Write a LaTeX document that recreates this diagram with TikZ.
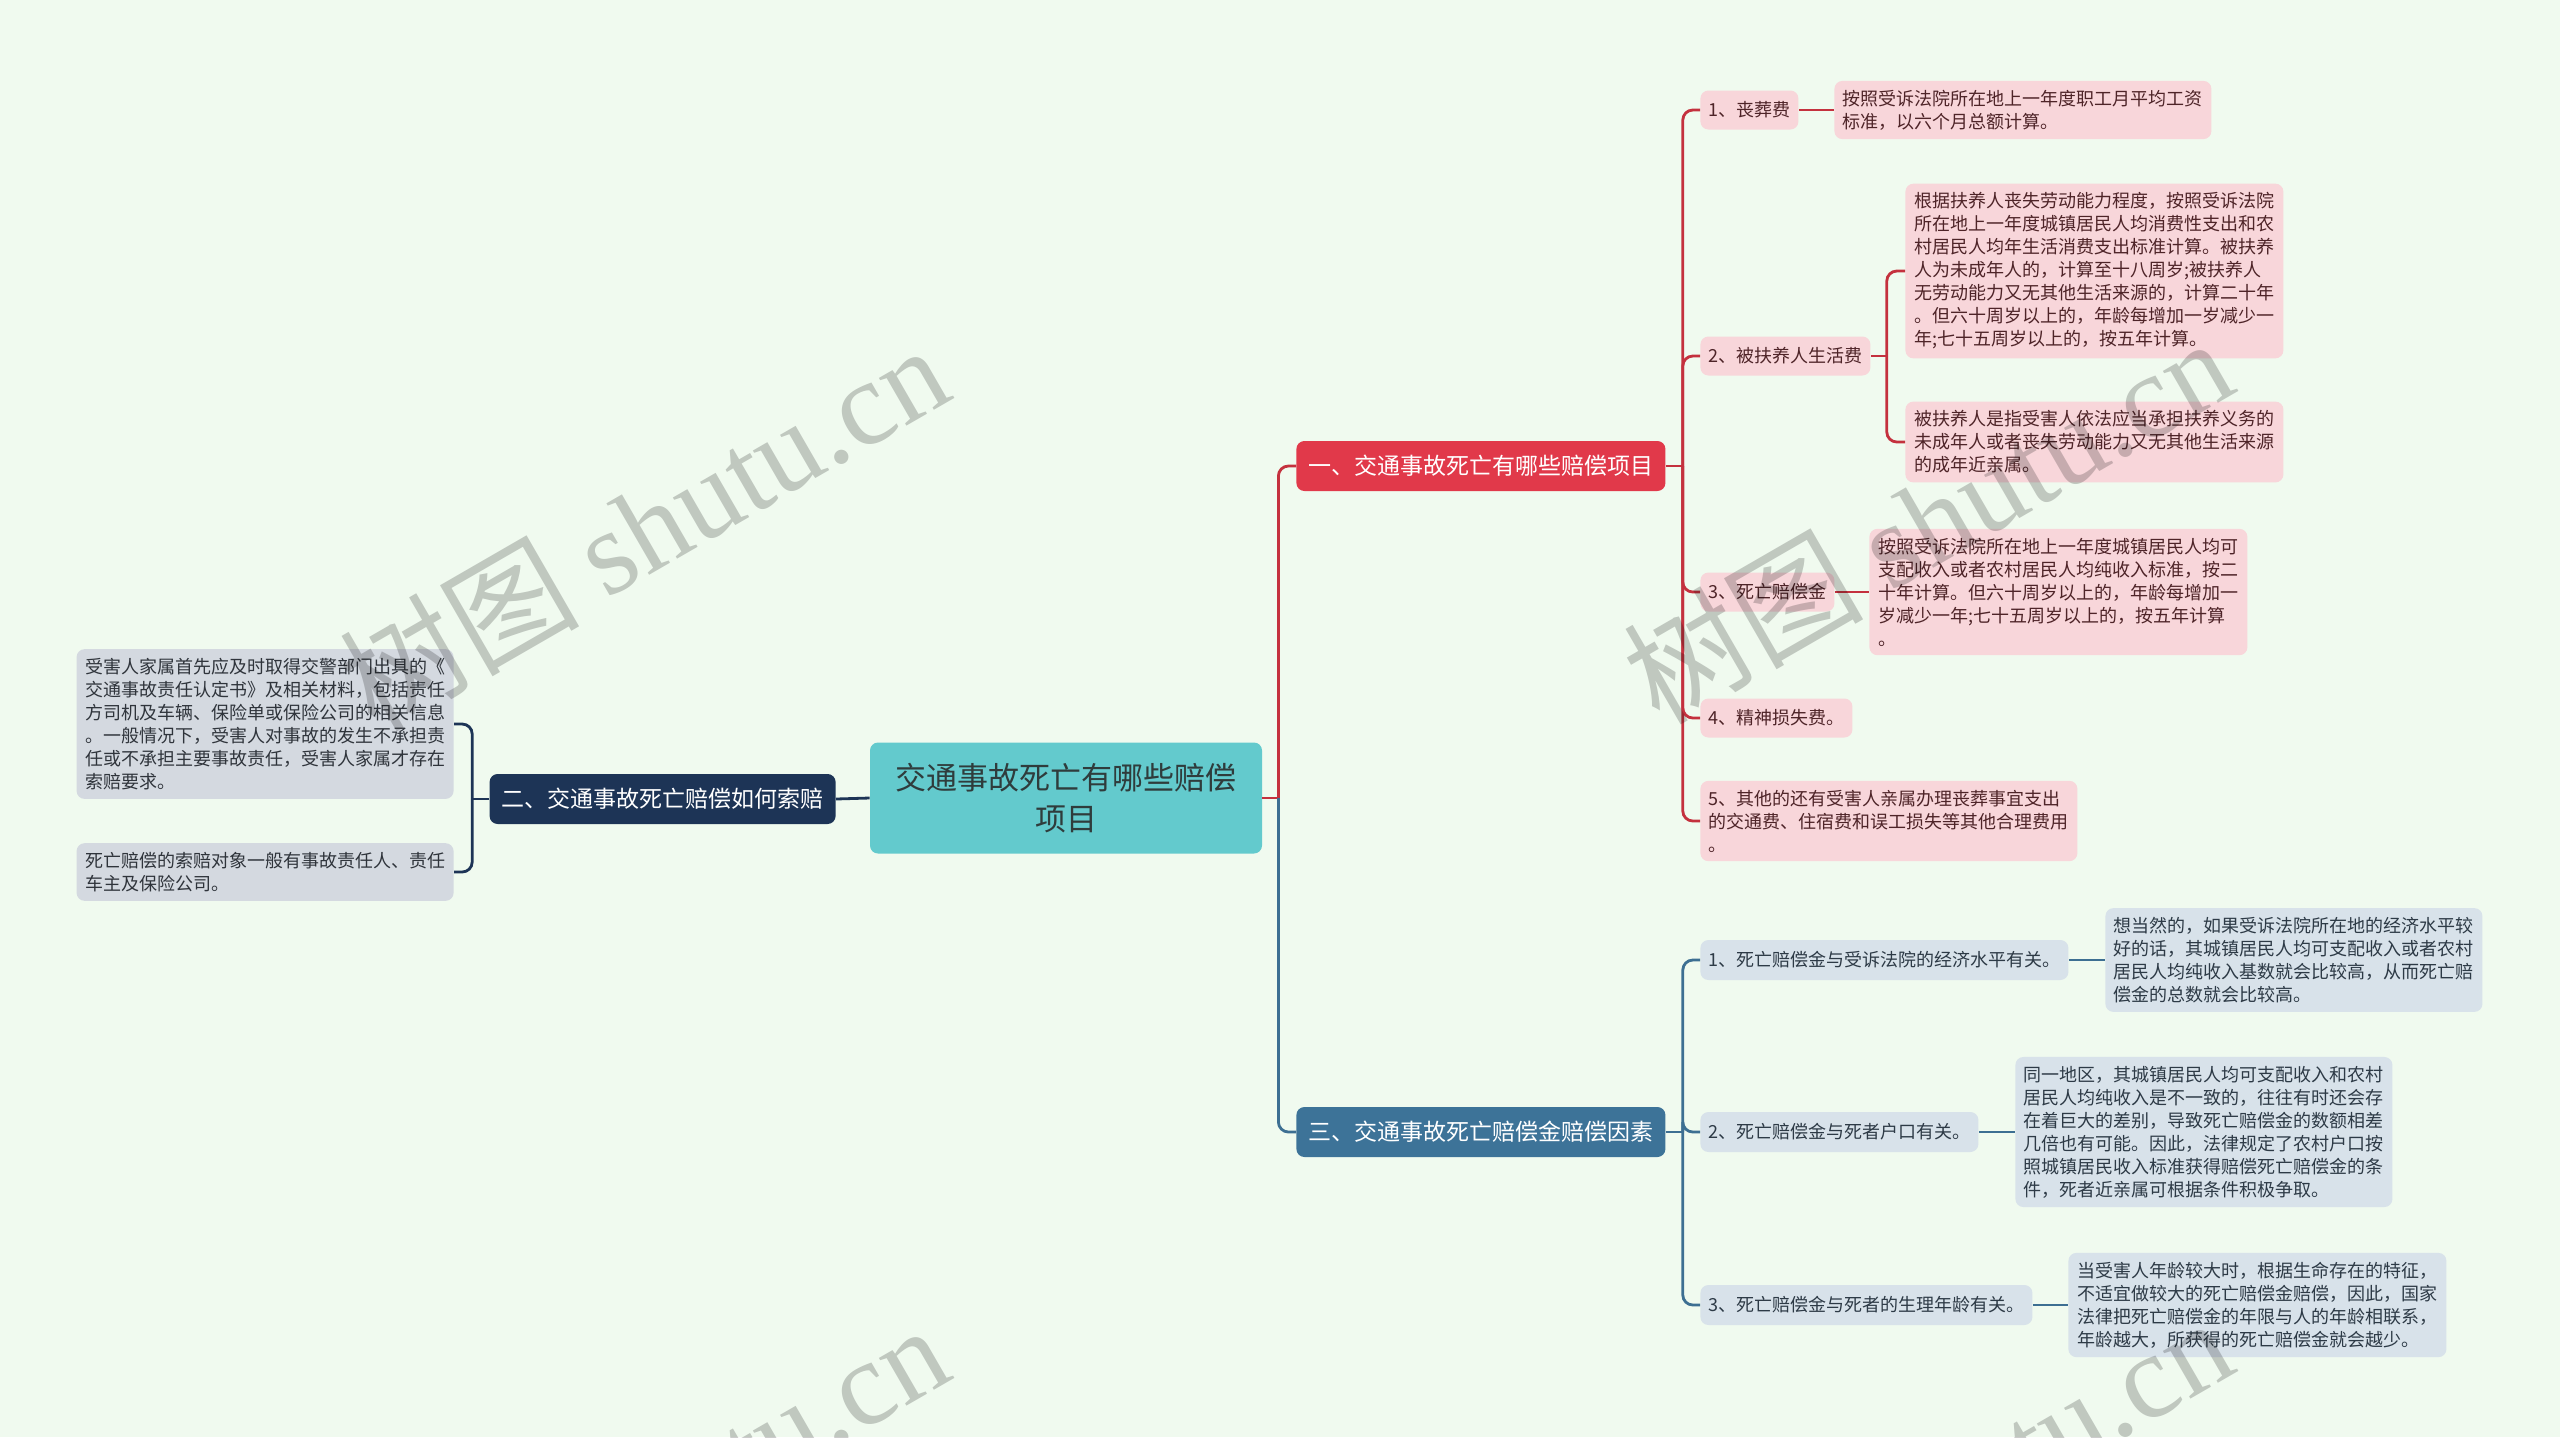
\documentclass[tikz,border=0pt]{standalone}
\usepackage{fontspec}
\setmainfont{Noto Sans CJK SC}
\newfontfamily\wmlatin{Liberation Serif}
\usetikzlibrary{calc}
\definecolor{bgc}{HTML}{F0FAEF}
\definecolor{rootc}{HTML}{63CACD}
\definecolor{roottext}{HTML}{2F3C3C}
\definecolor{redm}{HTML}{E1394A}
\definecolor{redl}{HTML}{C4313E}
\definecolor{pinkc}{HTML}{F8D6DA}
\definecolor{redtext}{HTML}{4E2428}
\definecolor{bluem}{HTML}{3D7398}
\definecolor{bluel}{HTML}{3D6F92}
\definecolor{bluec}{HTML}{D8E2EA}
\definecolor{bluetext}{HTML}{2D3A46}
\definecolor{navym}{HTML}{1D3456}
\definecolor{greyc}{HTML}{D4D9E0}
\definecolor{greytext}{HTML}{2F343B}
\tikzset{
  small/.style={font=\fontsize{9}{11.5}\selectfont},
  rootbox/.style={fill=rootc, text=roottext, rounded corners=4pt, inner sep=0pt,
    font=\fontsize{15.5}{20.5}\selectfont, align=center, minimum width=196pt, minimum height=55.5pt},
  mainbox/.style={rounded corners=4pt, inner sep=0pt, text=white,
    font=\fontsize{11.5}{14}\selectfont, minimum width=184.5pt, minimum height=25pt},
  rchild/.style={small, fill=pinkc, text=redtext, rounded corners=4pt, inner xsep=4pt, inner ysep=4.5pt,
    align=left, anchor=west, minimum height=19.5pt},
  rleaf/.style={small, fill=pinkc, text=redtext, rounded corners=4pt, inner xsep=4pt, inner ysep=4.5pt,
    align=left, anchor=west},
  bchild/.style={small, fill=bluec, text=bluetext, rounded corners=4pt, inner xsep=4pt, inner ysep=4.5pt,
    align=left, anchor=west, minimum height=20pt},
  bleaf/.style={small, fill=bluec, text=bluetext, rounded corners=4pt, inner xsep=4pt, inner ysep=4.5pt,
    align=left, anchor=west},
  gleaf/.style={small, fill=greyc, text=greytext, rounded corners=4pt, inner xsep=4pt, inner ysep=4.5pt,
    align=left, anchor=east},
  redline/.style={draw=redl, line width=1.4pt, rounded corners=5pt},
  blueline/.style={draw=bluel, line width=1.4pt, rounded corners=5pt},
  navyline/.style={draw=navym, line width=1.4pt, rounded corners=5pt},
  wmark/.style={rotate=30, text=black, opacity=0.2, font=\fontsize{60}{60}\selectfont},
}
\begin{document}
\begin{tikzpicture}[x=0.5pt,y=-0.5pt]
\fill[bgc] (0,0) rectangle (2560,1437);
\useasboundingbox (0,0) rectangle (2560,1437);

% root and main branches
\node[rootbox] (root) at (1066,798) {交通事故死亡有哪些赔偿\\项目};
\node[mainbox, fill=redm, anchor=west] (n1) at (1296,466) {一、交通事故死亡有哪些赔偿项目};
\node[mainbox, fill=bluem, anchor=west] (n3) at (1296,1132) {三、交通事故死亡赔偿金赔偿因素};
\node[mainbox, fill=navym, anchor=east, minimum width=173pt] (n2) at (836,799) {二、交通事故死亡赔偿如何索赔};

% red children
\node[rchild] (c1) at (1700,110) {1、丧葬费};
\node[rchild] (c2) at (1700,356) {2、被扶养人生活费};
\node[rchild] (c3) at (1700,592) {3、死亡赔偿金};
\node[rchild] (c4) at (1700,718) {4、精神损失费。};
\node[rleaf, minimum width=188.5pt] (c5) at (1700,821) {5、其他的还有受害人亲属办理丧葬事宜支出\\的交通费、住宿费和误工损失等其他合理费用\\。};

\node[rleaf, minimum width=188.5pt] (l1) at (1834,110) {按照受诉法院所在地上一年度职工月平均工资\\标准，以六个月总额计算。};
\node[rleaf, minimum width=189pt] (l2a) at (1905,271) {根据扶养人丧失劳动能力程度，按照受诉法院\\所在地上一年度城镇居民人均消费性支出和农\\村居民人均年生活消费支出标准计算。被扶养\\人为未成年人的，计算至十八周岁;被扶养人\\无劳动能力又无其他生活来源的，计算二十年\\。但六十周岁以上的，年龄每增加一岁减少一\\年;七十五周岁以上的，按五年计算。};
\node[rleaf, minimum width=189pt] (l2b) at (1905,442) {被扶养人是指受害人依法应当承担扶养义务的\\未成年人或者丧失劳动能力又无其他生活来源\\的成年近亲属。};
\node[rleaf, minimum width=189pt] (l3) at (1869,592) {按照受诉法院所在地上一年度城镇居民人均可\\支配收入或者农村居民人均纯收入标准，按二\\十年计算。但六十周岁以上的，年龄每增加一\\岁减少一年;七十五周岁以上的，按五年计算\\。};

% blue children
\node[bchild] (b1) at (1700,960) {1、死亡赔偿金与受诉法院的经济水平有关。};
\node[bchild] (b2) at (1700,1132) {2、死亡赔偿金与死者户口有关。};
\node[bchild] (b3) at (1700,1305) {3、死亡赔偿金与死者的生理年龄有关。};

\node[bleaf, minimum width=188.5pt] (bl1) at (2105,960) {想当然的，如果受诉法院所在地的经济水平较\\好的话，其城镇居民人均可支配收入或者农村\\居民人均纯收入基数就会比较高，从而死亡赔\\偿金的总数就会比较高。};
\node[bleaf, minimum width=188.5pt] (bl2) at (2015,1132) {同一地区，其城镇居民人均可支配收入和农村\\居民人均纯收入是不一致的，往往有时还会存\\在着巨大的差别，导致死亡赔偿金的数额相差\\几倍也有可能。因此，法律规定了农村户口按\\照城镇居民收入标准获得赔偿死亡赔偿金的条\\件，死者近亲属可根据条件积极争取。};
\node[bleaf, minimum width=189pt] (bl3) at (2068,1305) {当受害人年龄较大时，根据生命存在的特征，\\不适宜做较大的死亡赔偿金赔偿，因此，国家\\法律把死亡赔偿金的年限与人的年龄相联系，\\年龄越大，所获得的死亡赔偿金就会越少。};

% left leaves
\node[gleaf, minimum width=188.5pt] (g1) at (454,724) {受害人家属首先应及时取得交警部门出具的《\\交通事故责任认定书》及相关材料，包括责任\\方司机及车辆、保险单或保险公司的相关信息\\。一般情况下，受害人对事故的发生不承担责\\任或不承担主要事故责任，受害人家属才存在\\索赔要求。};
\node[gleaf, minimum width=188.5pt] (g2) at (454,872) {死亡赔偿的索赔对象一般有事故责任人、责任\\车主及保险公司。};

% connectors: root level
\coordinate (tr) at ($(root.east)+(16,0)$);
\draw[redline] (root.east) -- (tr);
\draw[redline] (tr) |- (n1.west);
\draw[blueline] (tr) |- (n3.west);
\draw[navyline] (root.west) -- (n2.east);

% red branch
\coordinate (t1) at ($(n1.east)+(17,0)$);
\draw[redline] (n1.east) -- (t1);
\foreach \c in {c1,c2,c3,c4,c5} \draw[redline] (t1) |- (\c.west);
\draw[redline] (c1.east) -- (l1.west);
\coordinate (t2) at ($(c2.east)+(16,0)$);
\draw[redline] (c2.east) -- (t2);
\draw[redline] (t2) |- (l2a.west);
\draw[redline] (t2) |- (l2b.west);
\draw[redline] (c3.east) -- (l3.west);

% blue branch
\coordinate (t3) at ($(n3.east)+(17,0)$);
\draw[blueline] (n3.east) -- (t3);
\foreach \c in {b1,b2,b3} \draw[blueline] (t3) |- (\c.west);
\draw[blueline] (b1.east) -- (bl1.west);
\draw[blueline] (b2.east) -- (bl2.west);
\draw[blueline] (b3.east) -- (bl3.west);

% navy branch
\coordinate (t4) at ($(n2.west)+(-17,0)$);
\draw[navyline] (n2.west) -- (t4);
\draw[navyline] (t4) |- (g1.east);
\draw[navyline] (t4) |- (g2.east);

% watermarks
\begin{scope}
\clip (0,0) rectangle (2560,1437);
\node[wmark] (w1) at (643,526) {树图 {\wmlatin shutu.cn}};
\node[wmark] (w2) at (1927,519) {树图 {\wmlatin shutu.cn}};
\node[wmark] (w3) at (643,1506) {树图 {\wmlatin shutu.cn}};
\node[wmark] (w4) at (1927,1499) {树图 {\wmlatin shutu.cn}};
\end{scope}
\end{tikzpicture}
\end{document}
